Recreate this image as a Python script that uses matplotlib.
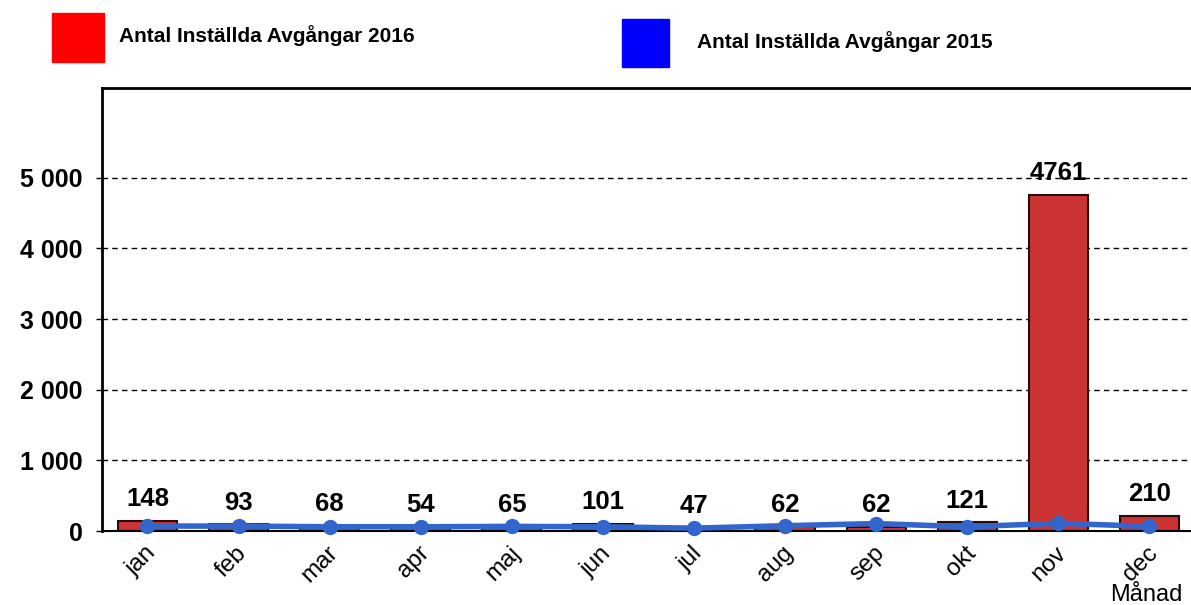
import numpy as np
import matplotlib.pyplot as plt
import matplotlib.transforms as mtransforms
from matplotlib.patches import Rectangle

plt.rcParams['font.family'] = ['Liberation Sans', 'DejaVu Sans']

months = ['jan', 'feb', 'mar', 'apr', 'maj', 'jun', 'jul', 'aug', 'sep', 'okt', 'nov', 'dec']
cancelled_2016 = [148, 93, 68, 54, 65, 101, 47, 62, 62, 121, 4761, 210]
cancelled_2015 = [70, 70, 60, 60, 65, 60, 40, 75, 105, 60, 110, 65]
yticks = [0, 1000, 2000, 3000, 4000, 5000]
label_2016 = 'Antal Inställda Avgångar 2016'
label_2015 = 'Antal Inställda Avgångar 2015'

fig = plt.figure(figsize=(11.91, 6.05), dpi=100)
ax = fig.add_axes([0.0856, 0.1223, 0.9177, 0.7322])

x = np.arange(len(months))
bars = ax.bar(x, cancelled_2016, width=0.65, color='#cc3333', edgecolor='#2a0a0a', linewidth=1.5, zorder=2)
ax.plot(x, cancelled_2015, color='#3366cc', lw=4, marker='o', ms=10, zorder=3, clip_on=False)

for xi, v in zip(x, cancelled_2016):
    ax.annotate(str(v), (xi, v), xytext=(0, 7), textcoords='offset points',
                ha='center', va='bottom', fontsize=18.5, fontweight='bold', zorder=4)

ax.set_xlim(-0.5, 11.5)
ax.set_ylim(0, 6270)
ax.set_yticks(yticks)
ax.set_yticklabels([f"{v:,}".replace(",", " ") for v in yticks], fontsize=18, fontweight='bold')
ax.tick_params(axis='y', length=4, width=1, pad=10)
ax.set_xticks(x)
ax.set_xticklabels(months, fontsize=17.5, rotation=45, ha='right', va='top', rotation_mode='anchor')
ax.tick_params(axis='x', length=0, pad=8)
offset = mtransforms.ScaledTranslation(-2/72, 0, fig.dpi_scale_trans)
for lab in ax.get_xticklabels():
    lab.set_transform(lab.get_transform() + offset)

for yv in yticks[1:]:
    ax.axhline(yv, color='black', lw=1, ls=(0, (4, 3)), zorder=1)

ax.spines['right'].set_visible(False)
ax.spines['left'].set_linewidth(2)
ax.spines['top'].set_linewidth(2)
ax.spines['bottom'].set_linewidth(1.5)

fig.text(1146/1191, 1 - 595/605, 'Månad', fontsize=17, ha='center', va='center')

# legend boxes
fig.patches.append(Rectangle((52/1191, 1 - 62/605), 52/1191, 49/605, transform=fig.transFigure, color='#ff0000'))
fig.patches.append(Rectangle((622/1191, 1 - 67/605), 47/1191, 48/605, transform=fig.transFigure, color='#0000ff'))
fig.text(119/1191, 1 - 36/605, label_2016, fontsize=15, fontweight='bold', ha='left', va='center')
fig.text(697/1191, 1 - 42/605, label_2015, fontsize=15, fontweight='bold', ha='left', va='center')

fig.savefig('out.png', dpi=100)
